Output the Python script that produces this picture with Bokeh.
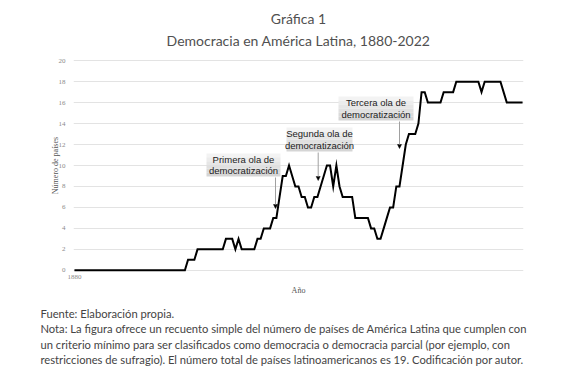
from bokeh.plotting import figure
from bokeh.models import (ColumnDataSource, Range1d, FixedTicker, Label, Arrow,
                          NormalHead, BoxAnnotation, Title)
from bokeh.embed import file_html
from bokeh.resources import INLINE

# ---------------- data ----------------
years = list(range(1880, 2023))
paises = [
    # 1880-1889
    0, 0, 0, 0, 0, 0, 0, 0, 0, 0,
    # 1890-1899
    0, 0, 0, 0, 0, 0, 0, 0, 0, 0,
    # 1900-1909
    0, 0, 0, 0, 0, 0, 0, 0, 0, 0,
    # 1910-1919
    0, 0, 0, 0, 0, 0, 1, 1, 1, 2,
    # 1920-1929
    2, 2, 2, 2, 2, 2, 2, 2, 3, 3,
    # 1930-1939
    3, 2, 3, 2, 2, 2, 2, 2, 3, 3,
    # 1940-1949
    4, 4, 4, 5, 5, 7, 9, 9, 10, 9,
    # 1950-1959
    8, 8, 7, 7, 6, 6, 7, 7, 8, 9,
    # 1960-1969
    10, 10, 8, 10, 8, 7, 7, 7, 7, 5,
    # 1970-1979
    5, 5, 5, 5, 4, 4, 3, 3, 4, 5,
    # 1980-1989
    6, 6, 8, 8, 10, 12, 13, 13, 13, 14,
    # 1990-1999
    17, 17, 16, 16, 16, 16, 16, 17, 17, 17,
    # 2000-2009
    17, 18, 18, 18, 18, 18, 18, 18, 18, 17,
    # 2010-2019
    18, 18, 18, 18, 18, 18, 17, 16, 16, 16,
    # 2020-2022
    16, 16, 16,
]
y_ticks = [0, 2, 4, 6, 8, 10, 12, 14, 16, 18, 20]
x_ticks = [1880]

titulo_1 = "Gráfica 1"
titulo_2 = "Democracia en América Latina, 1880-2022"
notas = [
    "Fuente: Elaboración propia.",
    "Nota: La figura ofrece un recuento simple del número de países de América Latina que cumplen con",
    "un criterio mínimo para ser clasificados como democracia o democracia parcial (por ejemplo, con",
    "restricciones de sufragio). El número total de países latinoamericanos es 19. Codificación por autor.",
]
olas = ["Primera ola de\ndemocratización",
        "Segunda ola de\ndemocratización",
        "Tercera ola de\ndemocratización"]

# ---------------- layout ----------------
W, H = 580, 377
F_LEFT, F_RIGHT, F_TOP, F_BOTTOM = 73, 523, 56, 274
X0, X1 = 1879.7, 2022.3
Y0, Y1 = -0.4, 20.4


def dx(px):
    return X0 + (px - F_LEFT) * (X1 - X0) / (F_RIGHT - F_LEFT)


def dy(py):
    return Y0 + (F_BOTTOM - py) * (Y1 - Y0) / (F_BOTTOM - F_TOP)


source = ColumnDataSource(data=dict(year=years, n=paises))

p = figure(width=W, height=H, output_backend="svg", toolbar_location=None,
           x_range=Range1d(X0, X1), y_range=Range1d(Y0, Y1),
           min_border_left=F_LEFT, min_border_right=W - F_RIGHT,
           min_border_top=F_TOP, min_border_bottom=H - F_BOTTOM)
p.outline_line_color = None
p.background_fill_color = "white"
p.border_fill_color = "white"

# grid
p.xgrid.visible = False
p.ygrid.ticker = FixedTicker(ticks=y_ticks)
p.ygrid.grid_line_color = "#e3e3e3"
p.ygrid.grid_line_width = 1

# axes
for ax in (p.xaxis[0], p.yaxis[0]):
    ax.axis_line_color = None
    ax.major_tick_line_color = None
    ax.minor_tick_line_color = None
    ax.major_label_text_font = "Liberation Serif"
    ax.major_label_text_font_size = "7px"
    ax.major_label_text_color = "#8a8a8a"
    ax.axis_label_text_font = "Liberation Serif"
    ax.axis_label_text_font_size = "8px"
    ax.axis_label_text_font_style = "normal"
    ax.axis_label_text_color = "#555555"

p.yaxis.ticker = FixedTicker(ticks=y_ticks)
p.yaxis.axis_label = "Número de países"
p.yaxis.major_label_standoff = 2
p.yaxis.axis_label_standoff = -4

p.xaxis.ticker = FixedTicker(ticks=x_ticks)
p.xaxis.axis_label = "Año"
p.xaxis.major_label_standoff = -6
p.xaxis.axis_label_standoff = 4

# line
p.line(x="year", y="n", source=source, line_color="black", line_width=2,
       line_join="miter")

# annotation boxes (gradient-like strips)
boxes = [
    (206, 280, 153, 176),
    (286, 352, 127, 151),
    (338, 413, 96, 120),
]
shades = ["#f3f3f3", "#ececec", "#e6e6e6", "#e0e0e0", "#dadada", "#d5d5d5"]
for (l, r, t, b), txt in zip(boxes, olas):
    n = len(shades)
    for i, c in enumerate(shades):
        tt = t + (b - t) * i / n
        bb = t + (b - t) * (i + 1) / n
        p.add_layout(BoxAnnotation(left=dx(l), right=dx(r), top=dy(tt), bottom=dy(bb),
                                   fill_color=c, fill_alpha=1, line_color=None))
    p.add_layout(Label(x=dx((l + r) / 2), y=dy((t + b) / 2), text=txt,
                       text_align="center", text_baseline="middle",
                       text_font="Liberation Sans", text_font_size="9.5px",
                       text_color="#222222", text_line_height=1.05))

arrows = [
    (275, 177, 208),
    (317.7, 152, 180),
    (399, 121, 148),
]
for ax_, y_start, y_end in arrows:
    p.add_layout(Arrow(x_start=dx(ax_), y_start=dy(y_start), x_end=dx(ax_), y_end=dy(y_end),
                       line_color="#a0a0a0", line_width=1,
                       end=NormalHead(size=4, fill_color="black", line_color="black",
                                      line_width=0.5)))

# titles: one two-line block, lines centred
p.add_layout(Title(text=titulo_1 + "\n" + titulo_2, align="center", text_align="center",
                   standoff=14, text_font="Lato", text_font_size="14px",
                   text_font_style="normal", text_line_height=1.34,
                   text_color="#505050"), "above")

# footnotes
p.add_layout(Title(text="\n".join(notas), align="left", offset=-33, standoff=15,
                   text_font="Lato", text_font_size="11.2px", text_font_style="normal",
                   text_line_height=1.18, text_color="#444444"), "below")

open("out.html", "w").write(file_html(p, INLINE))
